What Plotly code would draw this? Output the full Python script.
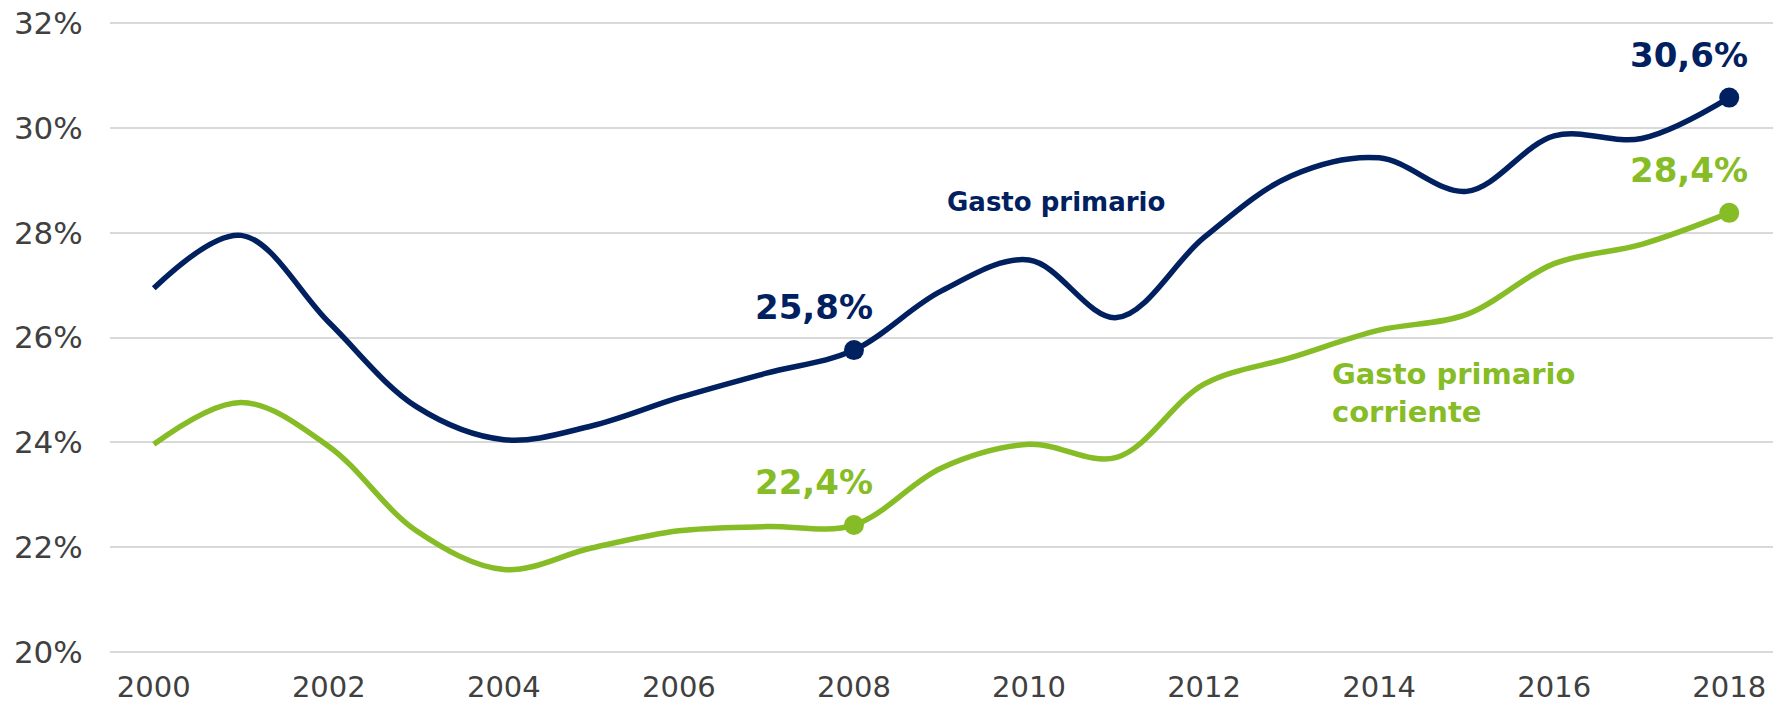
import plotly.graph_objects as go

# Years and series (% of GDP)
years = list(range(2000, 2019))
gasto_primario = [26.94, 27.95, 26.29, 24.68, 24.05, 24.31, 24.85, 25.32, 25.76, 26.89,
                  27.48, 26.38, 27.91, 29.09, 29.43, 28.79, 29.85, 29.80, 30.58]
gasto_corriente = [23.96, 24.76, 23.92, 22.31, 21.57, 21.98, 22.31, 22.39, 22.42, 23.51,
                   23.96, 23.71, 25.11, 25.62, 26.14, 26.44, 27.41, 27.78, 28.38]
highlight_idx = [8, 18]  # 2008 and 2018
y_ticks = [20, 22, 24, 26, 28, 30, 32]

NAVY = "#002060"
GREEN = "#86BC25"


def pct(v):
    return f"{v:.1f}%".replace(".", ",")


fig = go.Figure()

for vals, color in [(gasto_primario, NAVY), (gasto_corriente, GREEN)]:
    fig.add_trace(go.Scatter(
        x=years, y=vals, mode="lines",
        line=dict(color=color, width=5.5, shape="spline", smoothing=1.0),
        hoverinfo="skip", showlegend=False,
    ))
    fig.add_trace(go.Scatter(
        x=[years[i] for i in highlight_idx], y=[vals[i] for i in highlight_idx],
        mode="markers", marker=dict(color=color, size=20),
        hoverinfo="skip", showlegend=False,
    ))
    # value labels above the highlighted points
    for i in highlight_idx:
        fig.add_annotation(
            x=years[i], y=vals[i], text=f"<b>{pct(vals[i])}</b>",
            showarrow=False, xanchor="right", xshift=21, yshift=43,
            font=dict(family="DejaVu Sans", size=34, color=color),
        )

# series labels
fig.add_annotation(x=2010.31, y=28.59, text="<b>Gasto primario</b>", showarrow=False,
                   font=dict(family="DejaVu Sans", size=26, color=NAVY))
fig.add_annotation(x=2013.44, y=24.95, text="<b>Gasto primario<br>corriente</b>",
                   showarrow=False, xanchor="left", align="left",
                   font=dict(family="DejaVu Sans", size=29, color=GREEN))

fig.update_layout(
    width=1773, height=704,
    margin=dict(l=110, r=0, t=18, b=47),
    plot_bgcolor="white", paper_bgcolor="white",
)
fig.update_xaxes(
    range=[1999.5, 2018.5], tickvals=years[::2], ticktext=[str(y) for y in years[::2]],
    showgrid=False, zeroline=False, showline=False, automargin=False,
    ticks="outside", ticklen=4, tickcolor="rgba(0,0,0,0)", ticklabeloverflow="allow",
    tickfont=dict(family="DejaVu Sans", size=29, color="#404040"),
)
fig.update_yaxes(
    range=[19.9, 32.1], tickvals=y_ticks, ticktext=[f"{t}%" for t in y_ticks],
    showgrid=True, gridcolor="#D9D9D9", gridwidth=1.5, zeroline=False, showline=False,
    automargin=False, ticklabeloverflow="allow",
    ticks="outside", ticklen=20, tickcolor="rgba(0,0,0,0)",
    tickfont=dict(family="DejaVu Sans", size=31, color="#404040"),
)

# drop the browser's default 8px body margin so the figure fills the window
fig.write_html("out.html", config={"displayModeBar": False},
               post_script="document.body.style.margin = '0';")
